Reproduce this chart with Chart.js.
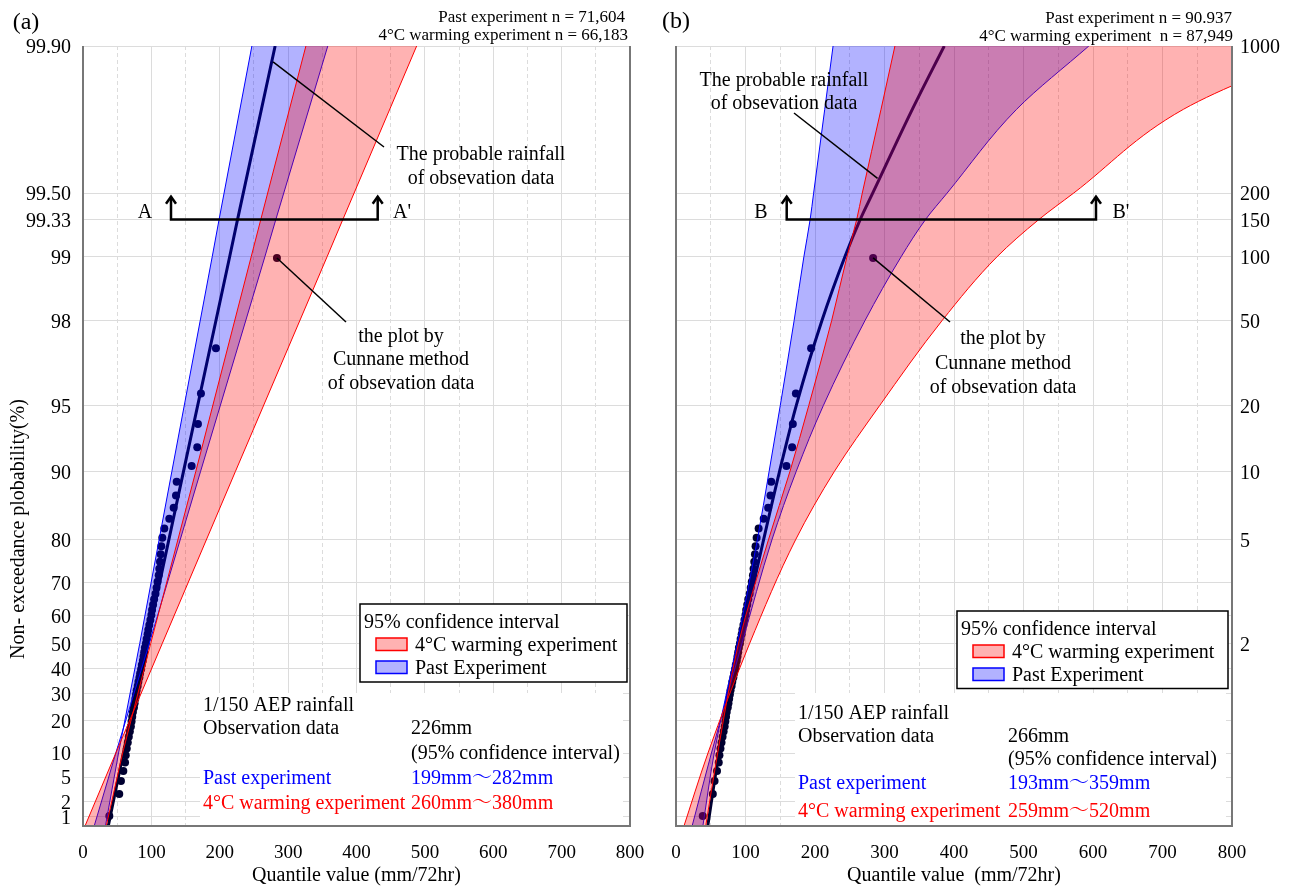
<!DOCTYPE html>
<html>
<head>
<meta charset="utf-8">
<script src="https://cdn.jsdelivr.net/npm/chart.js@4.4.1/dist/chart.umd.min.js"></script>
<style>
    html, body { margin: 0; padding: 0; background: #fff; }
    #wrap { position: relative; width: 1290px; height: 888px; }
    canvas { position: absolute; top: 0; }
    #chartA { left: 0; }
    #chartB { left: 645px; }
</style>
</head>
<body>
<div id="wrap">
    <canvas id="chartA" width="645" height="888"></canvas>
    <canvas id="chartB" width="645" height="888"></canvas>
</div>
<script>
// non-exceedance probabilities where the curves of panel (a) were read
var probsA     = [0.005, 0.1, 0.5, 0.9, 0.99, 0.99333, 0.999];
var pastLowA   = [32, 52, 83, 130, 189, 199, 247];
var pastHighA  = [15, 48, 97, 172, 266, 282, 358];
var warmLowA   = [33, 58, 99, 165, 246, 260, 326];
var warmHighA  = [1, 48, 116, 223, 357, 380, 488];
var probableA  = [36, 59, 93, 147, 214.5, 226, 281];

// same for panel (b)
var probsB     = [0.005, 0.1, 0.5, 0.8, 0.9, 0.95, 0.98, 0.99, 0.99333, 0.995, 0.998, 0.999];
var pastLowB   = [38, 55, 88, 117, 134, 150, 170, 184, 193, 198, 214, 226];
var pastHighB  = [22, 51, 95, 138, 173, 212, 272, 324, 359, 390, 490, 594];
var warmLowB   = [42, 60, 90, 133, 164, 191, 224, 246, 260, 268, 295, 315];
var warmHighB  = [10, 46, 106, 172, 228, 293, 383, 462, 522, 572, 730, 935];
var probableB  = [45, 62, 93, 126, 149, 173, 210, 243, 265, 283, 340, 386];

// observed annual maxima (mm/72hr), ascending; plotted at Cunnane positions
var observed = [38.5, 53, 55.5, 59, 61.5, 62.5, 64, 65.5, 67, 68.5, 70, 71, 72, 73, 74.5,
    75.5, 76.5, 77.5, 78.5, 80, 81, 82.5, 83.5, 85, 86, 87.5, 88.5, 89.5, 90.5, 92,
    93, 94.5, 95.5, 97, 98.5, 100, 101, 102.5, 104, 106, 107.5, 109, 110.7, 111.6,
    112.6, 113.6, 114.5, 116, 118.9, 126.2, 132.6, 136, 137, 158.9, 167.1, 168.1,
    172.5, 194.4, 283.6];

// probability paper ticks
var tickProbs   = [0.01, 0.02, 0.05, 0.1, 0.2, 0.3, 0.4, 0.5, 0.6, 0.7, 0.8, 0.9, 0.95, 0.98, 0.99, 1 - 1 / 150, 0.995, 0.999];
var tickLabelsA = ['1', '2', '5', '10', '20', '30', '40', '50', '60', '70', '80', '90', '95', '98', '99', '99.33', '99.50', '99.90'];
var tickLabelsB = ['', '', '', '', '', '', '', '2', '', '', '5', '10', '20', '50', '100', '150', '200', '1000'];

var FONT = '"Liberation Serif", "Noto Serif CJK JP", "Noto Sans CJK JP", serif';
Chart.defaults.font.family = FONT;
Chart.defaults.color = '#000';

var RED_FILL = 'rgba(255,0,0,0.3)';
var BLUE_FILL = 'rgba(0,0,255,0.3)';
var DARK = '#000030';

// Gumbel reduced variate
function gum(p) {
    return -Math.log(-Math.log(p));
}

var yMin = -1.633, yMax = gum(0.999);

function curve(probs, vals) {
    return vals.map(function (v, i) { return { x: v, y: gum(probs[i]) }; });
}

function cunnane(vals) {
    var n = vals.length;
    return vals.map(function (v, i) { return { x: v, y: gum((i + 1 - 0.4) / (n + 0.2)) }; });
}

function band(label, data, color, fill, order, smooth) {
    return {
        label: label, data: data, indexAxis: 'y',
        borderColor: color, borderWidth: 1, pointRadius: 0,
        backgroundColor: fill || 'transparent', fill: fill ? '+1' : false,
        order: order, cubicInterpolationMode: smooth ? 'monotone' : 'default'
    };
}

function buildDatasets(probs, wl, wh, pl, ph, pr, smooth) {
    return [
        band('4°C warming experiment', curve(probs, wl), '#ff0000', RED_FILL, 0, smooth),
        band('4°C upper', curve(probs, wh), '#ff0000', null, 0, smooth),
        band('Past Experiment', curve(probs, pl), '#0000ff', BLUE_FILL, 1, smooth),
        band('Past upper', curve(probs, ph), '#0000ff', null, 1, smooth),
        {
            label: 'probable', data: curve(probs, pr), indexAxis: 'y',
            borderColor: DARK, borderWidth: 3, pointRadius: 0, fill: false,
            cubicInterpolationMode: smooth ? 'monotone' : 'default', order: 2
        },
        {
            type: 'scatter', label: 'observed', data: cunnane(observed),
            pointRadius: 4, backgroundColor: DARK, borderColor: DARK, borderWidth: 0,
            showLine: false, order: 2
        }
    ];
}

function xScale(title) {
    return {
        type: 'linear', min: 0, max: 800,
        afterFit: function (s) { s.height = 62; s.paddingLeft = 0; s.paddingRight = 0; },
        ticks: {
            stepSize: 50, autoSkip: false, maxRotation: 0, padding: 16, font: { size: 19 },
            callback: function (v) { return v % 100 === 0 ? String(v) : ''; }
        },
        grid: { color: '#dcdcdc', drawTicks: false },
        border: {
            display: false,
            dash: function (c) { return (c.tick && c.tick.value % 100 !== 0) ? [4, 3] : []; }
        },
        title: { display: true, text: title, font: { size: 20 }, padding: 0 }
    };
}

function yScale(labels, pos, width, pad) {
    return {
        type: 'linear', position: pos, min: yMin, max: yMax,
        afterBuildTicks: function (s) {
            s.ticks = tickProbs.map(function (p) { return { value: gum(p) }; });
        },
        afterFit: function (s) { s.width = width; s.paddingTop = 0; s.paddingBottom = 0; },
        ticks: {
            autoSkip: false, padding: pad, labelOffset: 2, font: { size: 20 },
            callback: function (v, i) { return labels[i]; }
        },
        grid: { color: '#dcdcdc', drawTicks: false },
        border: { display: false }
    };
}

// text, arrows, legend and frame drawn on top of each panel
function notes(spec) {
    return {
        id: 'notes',
        afterDraw: function (chart) {
            var c = chart.ctx, a = chart.chartArea, sx = chart.scales.x, sy = chart.scales.y;
            var X = function (v) { return sx.getPixelForValue(v); };
            var Y = function (pct) { return sy.getPixelForValue(gum(pct / 100)); };

            function text(s, x, y, size, color, align) {
                c.font = size + 'px ' + FONT;
                c.fillStyle = color || '#000';
                c.textAlign = align || 'left';
                c.textBaseline = 'middle';
                c.fillText(s, x, y + 1);
            }
            function line(x1, y1, x2, y2, w) {
                c.lineWidth = w;
                c.strokeStyle = '#000';
                c.beginPath();
                c.moveTo(x1, y1);
                c.lineTo(x2, y2);
                c.stroke();
            }

            c.save();

            // summary text box
            var b = spec.box;
            c.fillStyle = '#fff';
            c.fillRect(b.x, b.y, b.w, a.bottom - b.y);
            b.rows.forEach(function (r, i) {
                text(r[0], b.x + 3, b.ys[i], 20, r[2]);
                text(r[1], b.col2, b.ys[i], 20, r[2]);
            });

            // legend
            var g = spec.legend;
            c.fillStyle = '#fff';
            c.fillRect(g.x, g.y, g.w, g.h);
            c.lineWidth = 1.5;
            c.strokeStyle = '#000';
            c.strokeRect(g.x, g.y, g.w, g.h);
            text('95% confidence interval', g.x + 4, g.y + 17.5, 20);
            [['4°C warming experiment', RED_FILL, '#ff0000'], ['Past Experiment', BLUE_FILL, '#0000ff']].forEach(function (e, i) {
                var top = g.y + 34 + i * 23;
                c.fillStyle = e[1];
                c.fillRect(g.x + 16, top, 31, 12.5);
                c.strokeStyle = e[2];
                c.lineWidth = 1.5;
                c.strokeRect(g.x + 16, top, 31, 12.5);
                text(e[0], g.x + 55, top + 6.5, 20);
            });

            // section line at 1/150 AEP
            var cy = Y(100 - 100 / 150), ty = Y(99.48);
            var x1 = X(spec.cut.from), x2 = X(spec.cut.to);
            c.lineWidth = 2.5;
            c.strokeStyle = '#000';
            c.beginPath();
            c.moveTo(x1, ty); c.lineTo(x1, cy); c.lineTo(x2, cy); c.lineTo(x2, ty);
            c.stroke();
            [x1, x2].forEach(function (x) {
                c.beginPath();
                c.moveTo(x - 5, ty + 7); c.lineTo(x, ty); c.lineTo(x + 5, ty + 7);
                c.stroke();
            });
            text(spec.cut.left, spec.cut.lx, 212, 20, '#000', 'center');
            text(spec.cut.right, spec.cut.rx, 212, 20, '#000', 'center');

            // leader to the probable rainfall curve
            line(X(spec.lead1[0]), Y(spec.lead1[1]), spec.lead1[2], spec.lead1[3], 1.5);
            spec.text1.forEach(function (t) { text(t[0], t[1], t[2], 20, '#000', 'center'); });

            // leader to the largest observation
            var n = observed.length;
            var px = X(observed[n - 1]), py = sy.getPixelForValue(gum((n - 0.4) / (n + 0.2)));
            line(px, py, spec.lead2[0], spec.lead2[1], 1.5);
            spec.text2.forEach(function (t) { text(t[0], t[1], t[2], 20, '#000', 'center'); });

            // headers
            text(spec.tag[0], spec.tag[1], spec.tag[2], 24, '#000', 'center');
            spec.head.forEach(function (h) { text(h[0], h[1], h[2], 17, '#000', 'right'); });

            if (spec.yTitle) {
                c.save();
                c.translate(18, 529);
                c.rotate(-Math.PI / 2);
                text(spec.yTitle, 0, 0, 20, '#000', 'center');
                c.restore();
            }

            // frame
            c.strokeStyle = '#777';
            c.lineWidth = 2;
            c.beginPath();
            c.moveTo(a.left, a.top); c.lineTo(a.left, a.bottom);
            c.lineTo(a.right, a.bottom); c.lineTo(a.right, a.top);
            c.stroke();

            c.restore();
        }
    };
}

function options(scales, pad) {
    return {
        responsive: false, animation: false, devicePixelRatio: 1, events: [],
        layout: { padding: pad },
        plugins: { legend: { display: false }, tooltip: { enabled: false } },
        scales: scales
    };
}

var notesA = {
    tag: ['(a)', 26, 22],
    head: [['Past experiment n = 71,604', 625, 17], ['4°C warming experiment n = 66,183', 628, 35]],
    yTitle: 'Non- exceedance plobability(%)',
    cut: { from: 128.7, to: 431, left: 'A', right: "A'", lx: 145, rx: 402 },
    lead1: [278, 99.881, 384, 147],
    text1: [['The probable rainfall', 481, 154], ['of obsevation data', 481, 178]],
    lead2: [346, 322],
    text2: [['the plot by', 401, 336], ['Cunnane method', 401, 359], ['of obsevation data', 401, 383]],
    legend: { x: 360, y: 604, w: 267, h: 78 },
    box: {
        x: 200, y: 693, w: 423, col2: 411, ys: [705, 728, 753, 778, 803],
        rows: [
            ['1/150 AEP rainfall', '', '#000'],
            ['Observation data', '226mm', '#000'],
            ['', '(95% confidence interval)', '#000'],
            ['Past experiment', '199mm〜282mm', '#0000ff'],
            ['4°C warming experiment', '260mm〜380mm', '#ff0000']
        ]
    }
};

var notesB = {
    tag: ['(b)', 31, 21],
    head: [['Past experiment n = 90.937', 587, 18], ['4°C warming experiment  n = 87,949', 588, 36]],
    yTitle: null,
    cut: { from: 159.3, to: 604.3, left: 'B', right: "B'", lx: 116, rx: 476 },
    lead1: [290, 99.575, 149, 113],
    text1: [['The probable rainfall', 139, 80], ['of obsevation data', 139, 103]],
    lead2: [305, 322],
    text2: [['the plot by', 358, 338], ['Cunnane method', 358, 363], ['of obsevation data', 358, 387]],
    legend: { x: 312, y: 611, w: 271, h: 77.5 },
    box: {
        x: 150, y: 693, w: 431, col2: 363, ys: [713, 736, 759, 783, 810.5],
        rows: [
            ['1/150 AEP rainfall', '', '#000'],
            ['Observation data', '266mm', '#000'],
            ['', '(95% confidence interval)', '#000'],
            ['Past experiment', '193mm〜359mm', '#0000ff'],
            ['4°C warming experiment', '259mm〜520mm', '#ff0000']
        ]
    }
};

new Chart(document.getElementById('chartA').getContext('2d'), {
    type: 'line',
    data: { datasets: buildDatasets(probsA, warmLowA, warmHighA, pastLowA, pastHighA, probableA, false) },
    options: options({ x: xScale('Quantile value (mm/72hr)'), y: yScale(tickLabelsA, 'left', 83, 12) },
        { left: 0, top: 46, right: 15, bottom: 0 }),
    plugins: [notes(notesA)]
});

new Chart(document.getElementById('chartB').getContext('2d'), {
    type: 'line',
    data: { datasets: buildDatasets(probsB, warmLowB, warmHighB, pastLowB, pastHighB, probableB, true) },
    options: options({ x: xScale('Quantile value  (mm/72hr)'), y: yScale(tickLabelsB, 'right', 58, 8) },
        { left: 31, top: 46, right: 0, bottom: 0 }),
    plugins: [notes(notesB)]
});
</script>
</body>
</html>
